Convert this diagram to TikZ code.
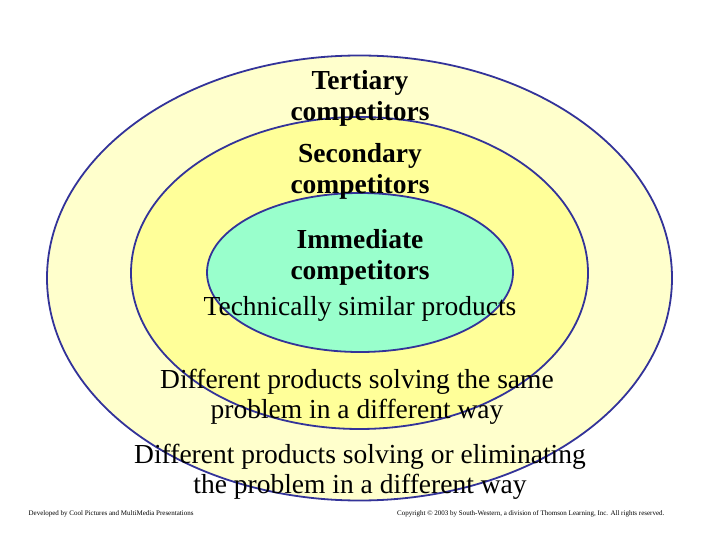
\documentclass[tikz,border=0pt]{standalone}
\usepackage{fontspec}
\setmainfont{Liberation Serif}
\usepackage{tikz}
\usetikzlibrary{shapes.geometric}
\definecolor{ringline}{RGB}{51,51,153}
\definecolor{tertfill}{RGB}{255,255,204}
\definecolor{secfill}{RGB}{255,255,153}
\definecolor{immfill}{RGB}{153,255,204}
\begin{document}
\begin{tikzpicture}[x=1pt,y=-1pt,semithick]
  \tikzstyle{every ring}=[ellipse,draw=ringline,line width=1.8pt,inner sep=0pt]
  \tikzstyle{title}=[font=\bfseries\fontsize{27.5}{31}\selectfont,align=center]
  \tikzstyle{desc}=[font=\fontsize{27.5}{29.5}\selectfont,align=center]
  \tikzstyle{foot}=[font=\fontsize{7}{8}\selectfont]

  \useasboundingbox (0,0) rectangle (720,540);
  \node[every ring,fill=tertfill,minimum width=625,minimum height=445] (T) at (359.5,278) {};
  \node[every ring,fill=secfill,minimum width=457,minimum height=312] (S) at (359.5,273) {};
  \node[every ring,fill=immfill,minimum width=306,minimum height=159] (I) at (360,272.5) {};

  \node[title] (Tt) at (360,98) {Tertiary\\competitors};
  \node[title] (St) at (360,171) {Secondary\\competitors};
  \node[title] (It) at (360,257.5) {Immediate\\competitors};

  \node[desc] (Id) at (360,309) {Technically similar products};
  \node[desc] (Sd) at (357,397) {Different products solving the same\\problem in a different way};
  \node[desc] (Td) at (360,472) {Different products solving or eliminating\\the problem in a different way};

  \node[foot,anchor=west] (Fl) at (25,514) {Developed by Cool Pictures and MultiMedia Presentations};
  \node[foot,anchor=east] (Fr) at (668,514) {Copyright \textcopyright\ 2003 by South-Western, a division of Thomson Learning, Inc. All rights reserved.};
\end{tikzpicture}
\end{document}
